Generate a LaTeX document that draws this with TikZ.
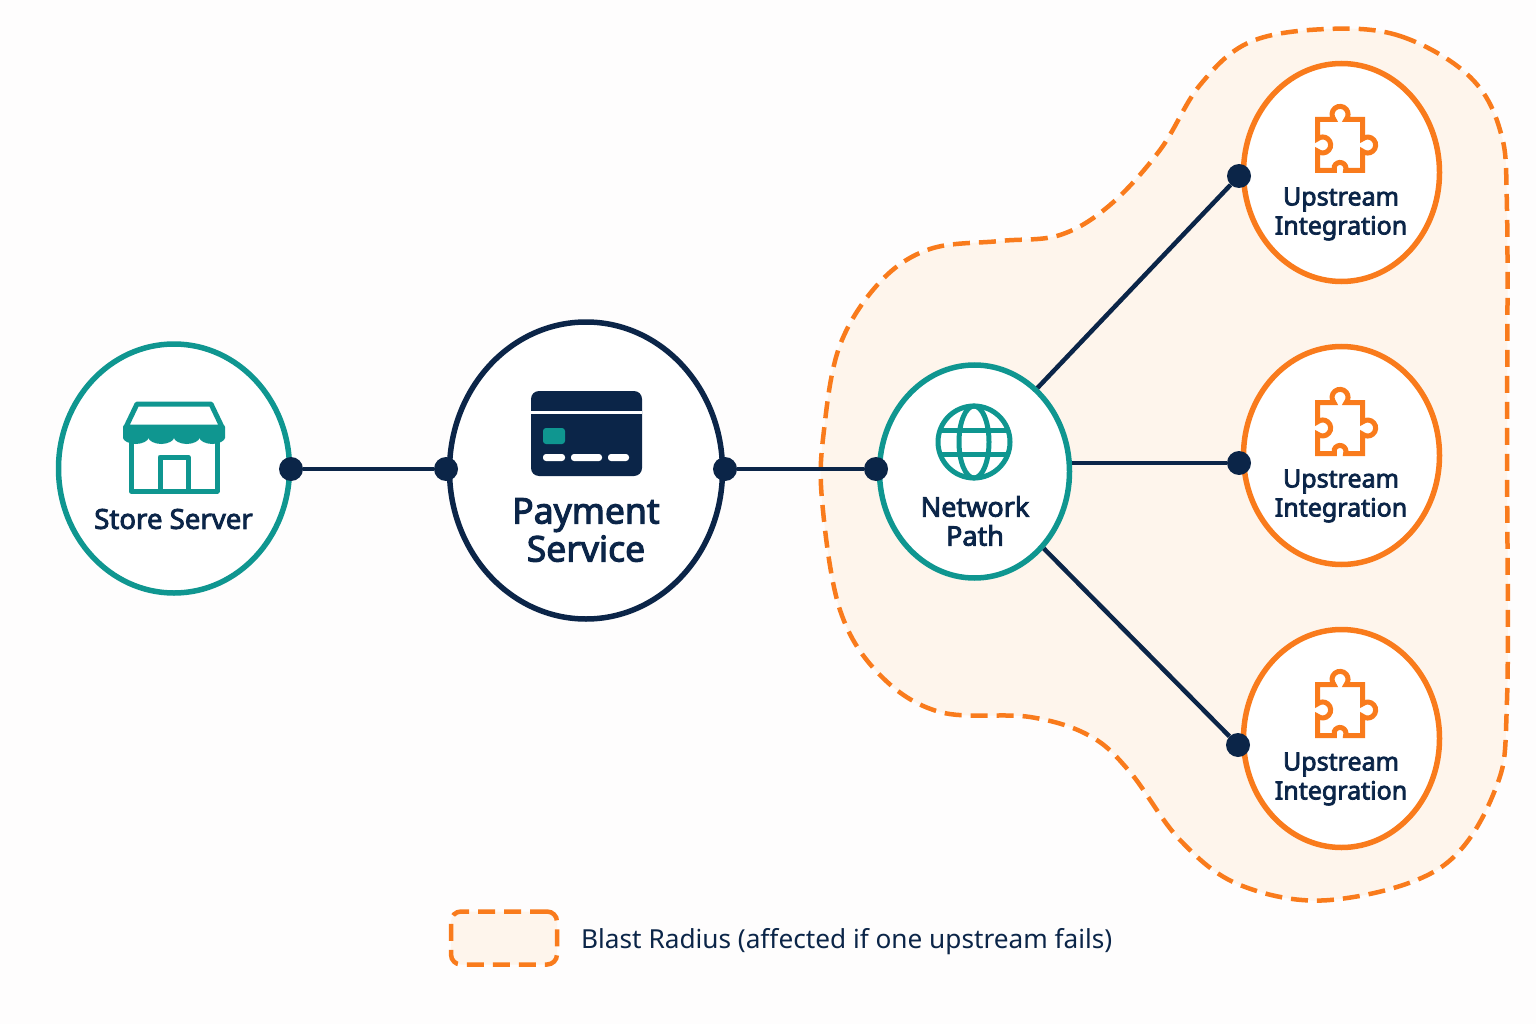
\documentclass[tikz,border=0pt]{standalone}
\usepackage{fontspec}
\usepackage{xcolor}
\usepackage{tikz}
\usetikzlibrary{arrows.meta,positioning,shapes.geometric}
\setmainfont{Noto Sans}
\newfontfamily\medfont[FakeBold=3]{Noto Sans}
\definecolor{BlastOrange}{HTML}{F97B1C}
\definecolor{BlastFill}{HTML}{FEF5EC}
\definecolor{NetTeal}{HTML}{0F9690}
\definecolor{NetNavy}{HTML}{0B2548}
\definecolor{PageWhite}{HTML}{FEFDFD}

\begin{document}
\begin{tikzpicture}[
    x=1pt,y=-1pt,
    hub/.style={ellipse,draw,line width=5.5pt,fill=white,inner sep=0pt},
    storehub/.style={hub,draw=NetTeal,minimum width=231pt,minimum height=249pt},
    payhub/.style={hub,draw=NetNavy,minimum width=273pt,minimum height=297pt},
    nethub/.style={hub,draw=NetTeal,minimum width=190pt,minimum height=213pt},
    uphub/.style={hub,draw=BlastOrange,minimum width=196pt,minimum height=218pt},
    joint/.style={circle,fill=NetNavy,minimum size=24pt,inner sep=0pt},
    link/.style={NetNavy,line width=4.5pt},
    blast/.style={draw=BlastOrange,fill=BlastFill,line width=4.5pt,dash pattern=on 17pt off 9pt},
    label/.style={font=\medfont\fontsize{27}{29}\selectfont,NetNavy,align=center},
    storelabel/.style={font=\medfont\fontsize{27.6}{29}\selectfont,NetNavy,align=center},
    uplabel/.style={font=\medfont\fontsize{25}{29}\selectfont,NetNavy,align=center},
    biglabel/.style={font=\medfont\fontsize{35.5}{38}\selectfont,NetNavy,align=center},
    puzzle/.pic={
      \draw[BlastOrange,line width=5pt,miter limit=4]
        (-22.5,-25.5) -- (-6.1,-25.5) arc[start angle=220,end angle=-40,radius=8pt]
        -- (22.5,-25.5) -- (22.5,-6.1) arc[start angle=130,end angle=-130,radius=8pt]
        -- (22.5,25.5) -- (5.6,25.5) arc[start angle=-20,end angle=200,radius=6pt]
        -- (-22.5,25.5) -- (-22.5,6.1) arc[start angle=-130,end angle=130,radius=8pt]
        -- cycle;
    }]

    \fill[PageWhite] (0,0) rectangle (1536,1024);
    \useasboundingbox (0,0) rectangle (1536,1024);

    % blast radius
    \draw[blast] plot[smooth cycle,tension=0.6] coordinates {
      (1327,29) (1400,36) (1468,75) (1500,130) (1507,210) (1507,450) (1507,700)
      (1495,790) (1440,868) (1330,900) (1240,885) (1180,840) (1130,772)
      (1090,736) (1030,717) (940,712) (880,675) (840,610) (822,500) (824,430)
      (840,345) (880,282) (930,249) (1000,241) (1060,235) (1110,205) (1160,150)
      (1200,85) (1250,42)};

    % circles
    \node[storehub] (store) at (174,468.5) {};
    \node[payhub] (pay) at (586,470.5) {};
    \node[nethub] (net) at (974.5,471.5) {};
    \node[uphub] (upa) at (1341.5,172.5) {};
    \node[uphub] (upb) at (1341.5,455.5) {};
    \node[uphub] (upc) at (1341.5,738.5) {};

    % joints
    \node[joint] (storeout) at (291,469) {};
    \node[joint] (payin) at (446,469) {};
    \node[joint] (payout) at (725,469) {};
    \node[joint] (netin) at (876,469) {};
    \node[joint] (upain) at (1239,176) {};
    \node[joint] (upbin) at (1239,463) {};
    \node[joint] (upcin) at (1238,745) {};

    \draw[link] (storeout) -- (payin);
    \draw[link] (payout) -- (netin);
    \draw[link] (net.53) -- (upain);
    \draw[link] (net.east |- upbin) -- (upbin);
    \draw[link] (net.-48) -- (upcin);

    % store icon
    \draw[NetTeal,line width=5pt,line join=round] (137,404) -- (211,404) -- (222,427) -- (126,427) -- cycle;
    \fill[NetTeal,rounded corners=2pt] (123,425) -- (225,425) -- (225,436)
      arc[start angle=0,end angle=-180,x radius=12.75pt,y radius=8pt]
      arc[start angle=0,end angle=-180,x radius=12.75pt,y radius=8pt]
      arc[start angle=0,end angle=-180,x radius=12.75pt,y radius=8pt]
      arc[start angle=0,end angle=-180,x radius=12.75pt,y radius=8pt] -- cycle;
    \draw[NetTeal,line width=5pt,line join=round] (131,438) -- (131,491) -- (217,491) -- (217,438);
    \draw[NetTeal,line width=5pt,line join=round] (160,491) -- (160,457) -- (188,457) -- (188,491);

    % card icon
    \fill[NetNavy,rounded corners=8pt] (531,391) rectangle (642,476);
    \fill[white] (531,411) rectangle (642,414);
    \fill[NetTeal,rounded corners=3pt] (543,428) rectangle (565,444);
    \fill[white,rounded corners=3pt] (543,454) rectangle (565,461);
    \fill[white,rounded corners=3pt] (571,454) rectangle (602,461);
    \fill[white,rounded corners=3pt] (608,454) rectangle (629,461);

    % globe icon
    \draw[NetTeal,line width=5pt] (974,442) circle[radius=36pt];
    \draw[NetTeal,line width=5pt] (974,442) ellipse[x radius=15pt,y radius=36pt];
    \draw[NetTeal,line width=5pt] (940,430) -- (1008,430);
    \draw[NetTeal,line width=5pt] (940,454) -- (1008,454);

    % puzzle icons
    \pic at (1340,145) {puzzle};
    \pic at (1340,428) {puzzle};
    \pic at (1340,710) {puzzle};

    % labels
    \node[storelabel] (storetxt) at (173.5,519) {Store Server};
    \node[biglabel] (paytxt) at (586,530) {Payment\\Service};
    \node[label] (nettxt) at (975,521) {Network\\Path};
    \node[uplabel] (upatxt) at (1341,214) {Upstream\\Integration};
    \node[uplabel] (upbtxt) at (1341,496) {Upstream\\Integration};
    \node[uplabel] (upctxt) at (1341,779) {Upstream\\Integration};

    % legend
    \node[blast,rounded corners=10pt,minimum width=106pt,minimum height=53pt,inner sep=0pt] (legendbox) at (504,938) {};
    \node[font=\fontsize{26.2}{30}\selectfont,NetNavy,anchor=west,inner sep=0pt] (legendtxt) at (581,942)
      {Blast Radius (affected if one upstream fails)};
\end{tikzpicture}
\end{document}
